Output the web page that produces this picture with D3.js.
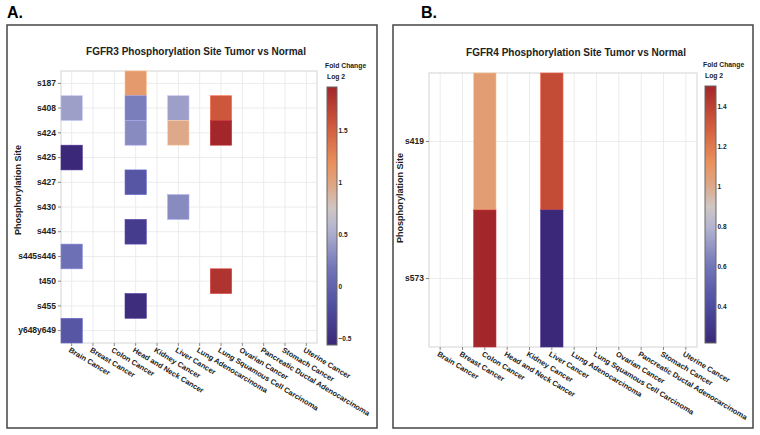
<!DOCTYPE html>
<html><head><meta charset="utf-8">
<script src="https://cdn.jsdelivr.net/npm/d3@7"></script>
<style>body{margin:0;background:#fff;} text{font-family:"Liberation Sans",Arial,sans-serif;}</style>
</head><body><svg id="c" width="760" height="435"></svg>
<script>
const categories = ["Brain Cancer","Breast Cancer","Colon Cancer","Head and Neck Cancer","Kidney Cancer","Liver Cancer","Lung Adenocarcinoma","Lung Squamous Cell Carcinoma","Ovarian Cancer","Pancreatic Ductal Adenocarcinoma","Stomach Cancer","Uterine Cancer"];
const sitesA = ["s187","s408","s424","s425","s427","s430","s445","s445s446","t450","s455","y648y649"];
const cellSitesA = ["s187","s408","s408","s408","s408","s424","s424","s424","s425","s427","s430","s445","s445s446","t450","s455","y648y649"];
const cellCatsA  = ["Head and Neck Cancer","Brain Cancer","Head and Neck Cancer","Liver Cancer","Lung Squamous Cell Carcinoma","Head and Neck Cancer","Liver Cancer","Lung Squamous Cell Carcinoma","Brain Cancer","Head and Neck Cancer","Liver Cancer","Head and Neck Cancer","Brain Cancer","Lung Squamous Cell Carcinoma","Head and Neck Cancer","Brain Cancer"];
const cellValuesA = [1.1,0.43,0.23,0.43,1.57,0.31,0.96,1.92,-0.56,-0.11,0.31,-0.36,0.13,1.82,-0.51,-0.11];
const ticksA = [-0.5,0,0.5,1,1.5];

const sitesB = ["s419","s573"];
const cellSitesB = ["s419","s573","s419","s573"];
const cellCatsB = ["Colon Cancer","Colon Cancer","Liver Cancer","Liver Cancer"];
const cellValuesB = [1.06,1.5,1.36,0.22];
const ticksB = [0.4,0.6,0.8,1,1.2,1.4];

const colorStops = [[0,'#3b2878'],[0.15,'#4e4ea0'],[0.3,'#7276b8'],[0.45,'#b3b4d0'],[0.53,'#cfc6c4'],[0.62,'#dea684'],[0.7,'#ea925e'],[0.85,'#cf5a3c'],[1,'#a3262a']];

const svg = d3.select("#c");
const interp = d3.scaleLinear().domain(colorStops.map(d=>d[0])).range(colorStops.map(d=>d[1])).interpolate(d3.interpolateRgb);

function panel(cfg){
  const g = svg.append("g");
  g.append("rect").attr("x",cfg.box[0]).attr("y",cfg.box[1]).attr("width",cfg.box[2]).attr("height",cfg.box[3])
    .attr("fill","none").attr("stroke","#444").attr("stroke-width",1.5);
  g.append("text").attr("x",cfg.letter[0]).attr("y",cfg.letter[1]).attr("font-size",16).attr("font-weight","bold").text(cfg.letterText);
  g.append("text").attr("x",cfg.title[0]).attr("y",cfg.title[1]).attr("text-anchor","middle").attr("font-size",10).attr("font-weight","bold").attr("fill","#222").text(cfg.titleText);
  const x = d3.scaleBand().domain(categories).range([cfg.plot[0],cfg.plot[1]]);
  const y = d3.scaleBand().domain(cfg.sites).range([cfg.plot[2],cfg.plot[3]]);
  const ext = d3.extent(cfg.values);
  const norm = d3.scaleLinear().domain(ext).range([0,1]);
  const color = v => interp(norm(v));
  g.append("g").selectAll("line").data(categories).join("line")
    .attr("x1",d=>x(d)+x.bandwidth()/2).attr("x2",d=>x(d)+x.bandwidth()/2)
    .attr("y1",cfg.plot[2]).attr("y2",cfg.plot[3]).attr("stroke","#ececec");
  g.append("g").selectAll("line").data(cfg.sites).join("line")
    .attr("y1",d=>y(d)+y.bandwidth()/2).attr("y2",d=>y(d)+y.bandwidth()/2)
    .attr("x1",cfg.plot[0]).attr("x2",cfg.plot[1]).attr("stroke","#ececec");
  g.append("rect").attr("x",cfg.plot[0]).attr("y",cfg.plot[2]).attr("width",cfg.plot[1]-cfg.plot[0]).attr("height",cfg.plot[3]-cfg.plot[2])
    .attr("fill","none").attr("stroke","#d4d4d4");
  g.append("g").selectAll("rect").data(cfg.values.map((v,i)=>({v,s:cfg.cellSites[i],c:cfg.cellCats[i]}))).join("rect")
    .attr("x",d=>x(d.c)).attr("y",d=>y(d.s)).attr("width",x.bandwidth()).attr("height",y.bandwidth())
    .attr("fill",d=>color(d.v)).attr("stroke",d=>d3.color(color(d.v)).brighter(0.6)).attr("stroke-width",0.6);
  const ya = g.append("g").attr("transform",`translate(${cfg.plot[0]},0)`).call(d3.axisLeft(y).tickSize(3).tickPadding(2));
  ya.select(".domain").remove();
  ya.selectAll("line").attr("stroke","#888");
  ya.selectAll("text").attr("font-size",8.5).attr("font-weight","bold").attr("fill","#222").attr("font-family","Liberation Sans, Arial, sans-serif");
  const xa = g.append("g").attr("transform",`translate(0,${cfg.plot[3]})`).call(d3.axisBottom(x).tickSize(3).tickPadding(2));
  xa.select(".domain").remove();
  xa.selectAll("line").attr("stroke","#888");
  xa.selectAll("text").attr("font-size",7.5).attr("font-weight","bold").attr("fill","#222").attr("font-family","Liberation Sans, Arial, sans-serif")
    .attr("text-anchor","start").attr("dy","0.5em").attr("transform","translate(1,1) rotate(31)");
  g.append("text").attr("transform",`translate(${cfg.ylab[0]},${cfg.ylab[1]}) rotate(-90)`).attr("text-anchor","middle")
    .attr("font-size",9).attr("font-weight","bold").attr("fill","#222").text("Phosphorylation Site");
  const cb = cfg.cbar;
  const id = "grad"+cfg.letterText[0];
  const grad = svg.append("defs").append("linearGradient").attr("id",id).attr("x1",0).attr("y1",1).attr("x2",0).attr("y2",0);
  grad.selectAll("stop").data(colorStops).join("stop").attr("offset",d=>d[0]).attr("stop-color",d=>d[1]);
  g.append("rect").attr("x",cb[0]).attr("y",cb[2]).attr("width",cb[1]).attr("height",cb[3]-cb[2]).attr("fill",`url(#${id})`).attr("stroke","#666").attr("stroke-width",1);
  const cy = d3.scaleLinear().domain(ext).range([cb[3],cb[2]]);
  const ca = g.append("g").attr("transform",`translate(${cb[0]+cb[1]},0)`).call(d3.axisRight(cy).tickValues(cfg.ticks).tickSize(0).tickPadding(1.5).tickFormat(d=>d<0?"\u22120.5":d3.format("")(d)));
  ca.select(".domain").remove();
  ca.selectAll("text").attr("font-size",6.5).attr("font-weight","bold").attr("fill","#222").attr("font-family","Liberation Sans, Arial, sans-serif");
  g.append("text").attr("x",cb[0]-2).attr("y",cb[2]-19).attr("font-size",6.8).attr("font-weight","bold").attr("fill","#222").text("Fold Change");
  g.append("text").attr("x",cb[0]).attr("y",cb[2]-8).attr("font-size",6.8).attr("font-weight","bold").attr("fill","#222").text("Log 2");
}

panel({box:[7,25,370,403],letter:[7,18],letterText:"A.",title:[196,55],titleText:"FGFR3 Phosphorylation Site Tumor vs Normal",
  plot:[61,317,71,343],sites:sitesA,cellSites:cellSitesA,cellCats:cellCatsA,values:cellValuesA,ticks:ticksA,ylab:[21,190],cbar:[327,10,87,345]});
panel({box:[393,25,360,403],letter:[421,18],letterText:"B.",title:[576,56],titleText:"FGFR4 Phosphorylation Site Tumor vs Normal",
  plot:[429,697,73,347],sites:sitesB,cellSites:cellSitesB,cellCats:cellCatsB,values:cellValuesB,ticks:ticksB,ylab:[403,198],cbar:[705,11,86,343]});
</script></body></html>
